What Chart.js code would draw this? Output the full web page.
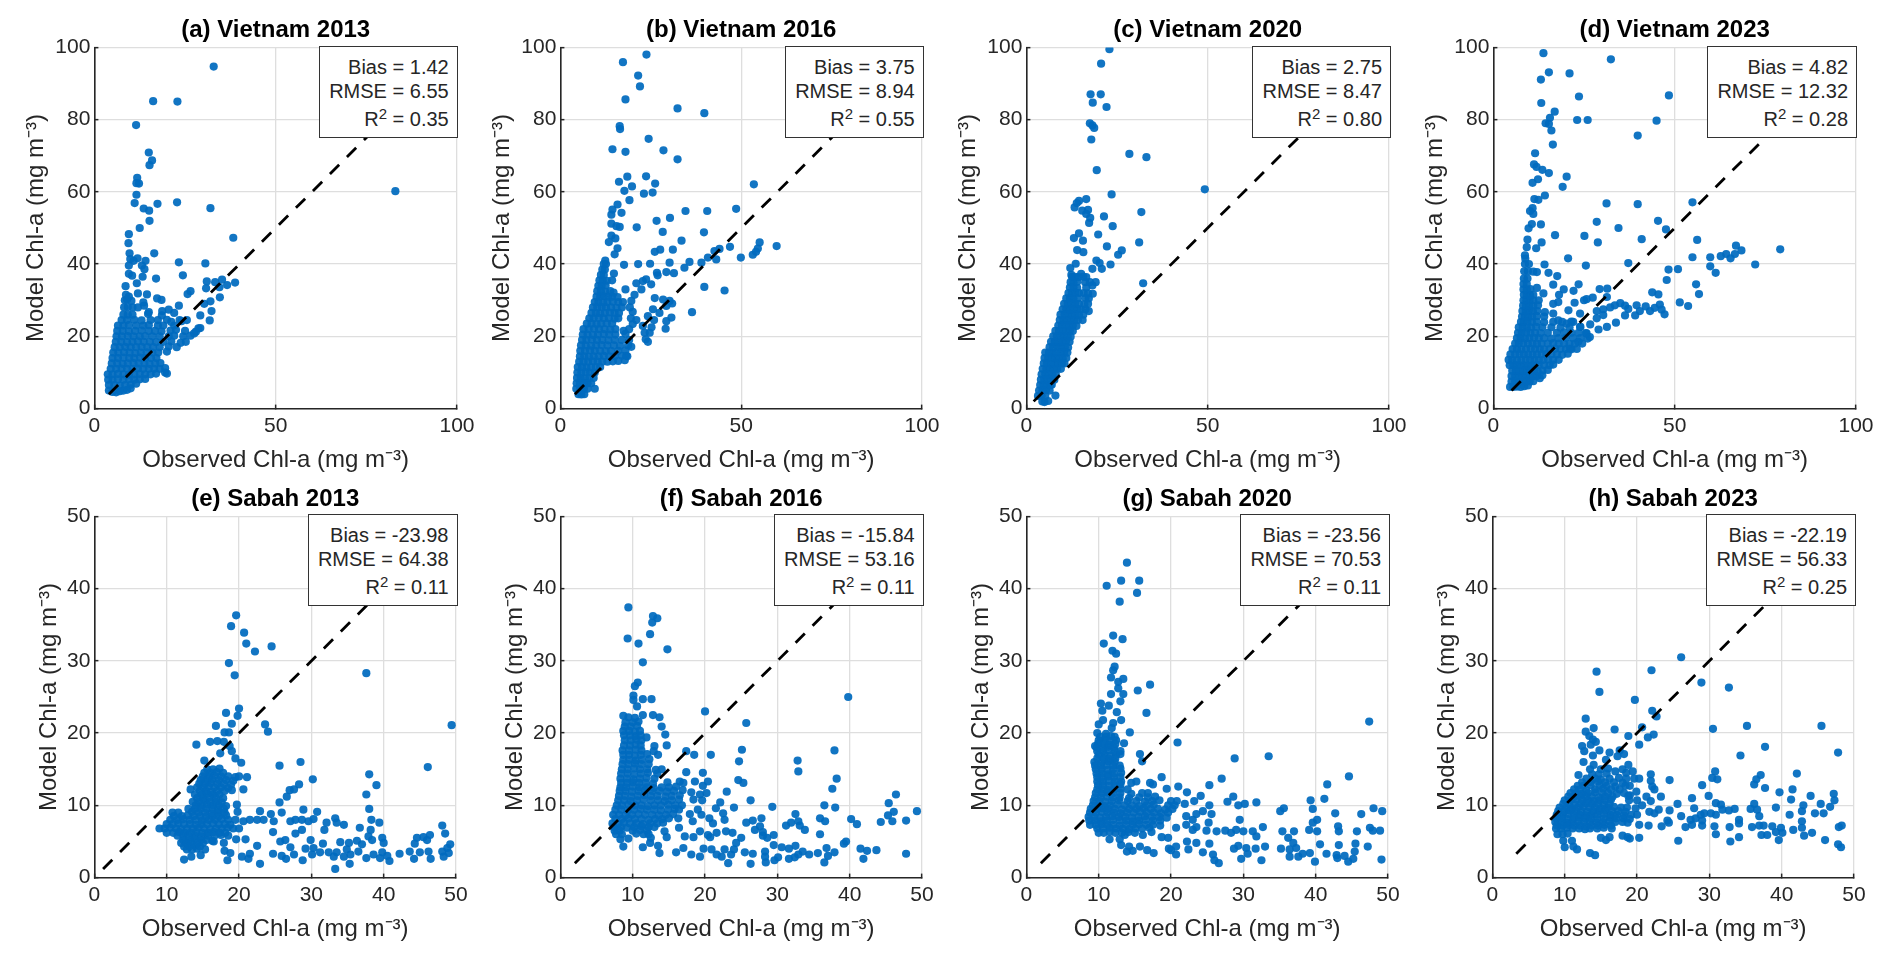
<!DOCTYPE html>
<html>
<head>
<meta charset="utf-8">
<title>Observed vs model Chl-a</title>
<script src="https://cdn.jsdelivr.net/npm/chart.js@4"></script>
<style>
  body { margin: 0; background: #fff; font-family: "Liberation Sans", Arial, sans-serif; }
  #page { position: relative; width: 1892px; height: 963px; overflow: hidden; }
  canvas { position: absolute; }
  .stat { position: absolute; box-sizing: border-box; height: 92px; background: #fff; border: 1.5px solid #333;
          color: #262626; font-size: 20px; text-align: right; padding: 9px 8px 0 0; line-height: 23.5px; }
  .stat sup { font-size: 15px; line-height: 0; vertical-align: 7px; }
  .stat .r2 { margin-top: 5px; }
</style>
</head>
<body>
<div id="page"></div>
<script>
const titles = ["(a) Vietnam 2013", "(b) Vietnam 2016", "(c) Vietnam 2020", "(d) Vietnam 2023",
                "(e) Sabah 2013", "(f) Sabah 2016", "(g) Sabah 2020", "(h) Sabah 2023"];
const bias = ["1.42", "3.75", "2.75", "4.82", "-23.98", "-15.84", "-23.56", "-22.19"];
const rmse = ["6.55", "8.94", "8.47", "12.32", "64.38", "53.16", "70.53", "56.33"];
const r2 = ["0.35", "0.55", "0.80", "0.28", "0.11", "0.11", "0.11", "0.25"];
const lineStart = [4, 4, 2, 5, 1.2, 2, 2, 3.3];
const ticksVietnamX = [0, 50, 100];
const ticksVietnamY = [0, 20, 40, 60, 80, 100];
const ticksSabah = [0, 10, 20, 30, 40, 50];

const vietnam2013 = [
[32.9,94.7],[16.2,85.1],[22.9,85],[11.5,78.5],[15,70.9],[15.9,68.7],[15.2,67.4],[11.8,63.9],[11.6,62.4],[12.3,62.3],[11.6,59.2],[11.1,56.9],[22.8,57.1],[17.4,56.7],[32,55.5],[13.6,55.4],[15.1,54.8],[15.2,52],[12.5,50],[83,60.2],
[9.5,48.3],[9.4,45.8],[38.3,47.3],[16.5,43],[9.7,43],[9.9,41.4],[11.9,41.6],[10.8,40.9],[14.1,40.9],[13.1,39.6],[9.5,39.6],[23.3,40.5],[30.6,40.2],[13.8,38.6],[9.5,37.3],[10.4,36.8],[13.3,36.5],[17,36],[24.4,36.9],[11.7,34.7],[8.6,33.9],[31,35.2],[35.2,35.7],[33.3,35],[38.8,34.9],[36.6,34.2],[34.5,33.6],[30.8,33.3],[26.5,32.5],[25.7,31.7],[12,31.9],[14.5,31.6],[34.6,30.8],[32,29.7],[30.3,29],[17.3,30.5],[18.5,30.1],[23.3,28.5],[32.3,27],[29.2,25.8],[31.8,24.4],[29.2,22.3],[28.7,22.2],[15,26.7],[18.7,27],[20.5,27.4],[22,26.5],[25.5,24.5],[24,24.2],[21.2,24],
[4,5],[5,4.6],[6,4.5],[7,4.8],[8,5],[9,5.2],[10,5.6],
[4,6.5],[5.5,6.5],[7,6.4],[8.5,6.5],[10,6.6],[11.5,6.9],
[3.8,8],[5,8],[6.5,8.1],[8,8],[9.5,8.1],[11,8],[12.5,8.1],[14,8.2],
[3.7,9.5],[5,9.5],[6.5,9.6],[8,9.5],[9.5,9.4],[11,9.5],[12.5,9.6],[14,9.5],[15.5,9.5],[17,9.7],[19.5,10],[20,9.7],
[4.5,11],[6,11],[7.5,11.1],[9,11],[10.5,11],[12,11.1],[13.5,11],[15,11],[16.5,11],[18,11],[19.5,11.2],
[4.8,12.5],[6.3,12.5],[7.8,12.4],[9.2,12.5],[10.8,12.6],[12.2,12.5],[13.8,12.5],[15.2,12.4],[16.8,12.5],[18.2,12.6],
[5,14],[6.5,14],[8,14.1],[9.6,14],[11,14],[12.6,14.1],[14,14],[15.6,14],[17.1,14],
[5.2,15.5],[6.6,15.5],[8.2,15.6],[9.7,15.5],[11.3,15.4],[12.8,15.5],[14.4,15.6],[16,15.5],[17.6,15.5],[20,15.8],
[5.6,17],[7,17],[8.5,17.1],[10,17],[11.5,17],[13,17.1],[14.6,17],[16.2,17],[18,17],[20.5,17.2],[22.7,17],
[5.9,18.5],[7.4,18.5],[9,18.4],[10.5,18.5],[12,18.6],[13.6,18.5],[15.3,18.5],[17,18.4],[19,18.5],[21.2,18.6],[23.8,18.2],[25.2,18.5],
[6.1,20],[7.6,20],[9.2,20.1],[10.8,20],[12.5,20],[14,20.1],[16,20],[18,20],[20.5,20],[22,20.2],[24.5,20],[26.5,20.2],[27.5,20.8],
[6.3,21.5],[7.8,21.5],[9.5,21.4],[11.2,21.5],[13,21.6],[15,21.5],[16.7,21.5],[18.5,21.4],[21,21.6],[22.5,21.8],[25,21.5],[28,21.3],
[6.5,23],[8,23],[9.5,23.1],[11.5,23],[13.5,23],[15,23.1],[17.5,23],[19,23],[22,23],
[7.5,24.5],[9,24.5],[11,24.6],[13,24.4],[15.5,24.5],[17.5,24.5],[20,24.6],[23.5,24.5],
[8,26],[9.2,26],[10.5,26],[14.8,26.2],[18.6,25.8],
[8.2,28],[9.2,28.1],[10.5,28],[12,28],[13.7,28.5],
[8.4,30],[9,30.2],[10.2,29.8],[13.5,29.4],[8.7,31.5],[9.5,31]
];

const vietnam2016 = [
[23.8,98],[17.3,95.9],[21.5,92.2],[22,89.2],[18,85.6],[32.4,83.1],[39.8,81.8],[16.4,78.2],[16.5,77.4],[24.4,74.7],[14.4,71.8],[18,71.1],[28.5,71.5],[32.4,69],[18.5,64.2],[23.7,64.3],[16.2,62.8],[26.2,62.3],[53.5,62.1],[19.8,61.5],[17.7,60.3],[23.1,59.5],[25.5,59.8],[19.1,57.7],[15.8,56.5],[14.4,55.1],[14.1,53.7],[16.9,54.2],[34.6,54.7],[40.6,54.7],[48.6,55.3],[30.3,52.8],[26.6,52],[14.1,51.2],[15.5,50.5],[16.4,50.3],[21.1,50.2],[28.3,48.9],[39.7,48.8],[14.1,47.9],[15.2,47.1],[13.4,46.1],[33.5,46.5],[55.1,46],[15.8,44.4],[15,42.7],[26.1,43.4],[27.6,44],[31.1,44],[42.6,43.6],[44,44.2],[46.9,44.8],[59.8,45],[54.6,44.3],[54.1,43.4],[53.2,42.6],[49.9,41.8],[40.8,41.8],[43.1,41.3],[39,40.4],[35.7,40.6],[34.3,39],[30.2,40.4],[24.8,40.1],[21.5,40],[17.6,39.8],[26.7,37.6],[29.3,37.8],[31.4,37.5],[26.9,36.9],[14.8,37.4],[23.7,35.8],[22.8,35.3],[25.1,34.4],[21,34.7],[39.8,33.7],[45.4,32.7],[18,33],[14.7,32.1],[22.4,33],[20.5,31.5],[19.6,29.8],[26.1,30.6],[28.4,30.2],[30.2,29.8],[30.9,29.1],[29.3,28.4],[36.4,26.7],[27.4,26.5],[25.6,27.5],[24.2,25.6],[30.7,25.2],[29.3,24.2],[25.9,24.5],[25.2,22.5],[22.8,22.9],[29.1,22.1],[24.7,21],[23.3,21],[23.6,19.2],[24.2,18.5],[19.6,17.1],[18.2,14.6],[21,24.5],[20,26.8],[19.2,28],
[5,4],[5.8,3.9],[6.6,4],[4.4,5.5],[5.5,5.5],[6.5,5.4],[7.5,5.5],[9.5,5.5],
[4.5,7],[5.4,7],[6.5,7.1],[7.5,7],[8.5,7],[4.6,8.5],[5.6,8.5],[6.8,8.4],[8,8.5],[9.2,8.5],
[4.7,10],[5.8,10],[7,10.1],[8.2,10],[9.5,10],[4.8,11.5],[6,11.5],[7.2,11.4],[8.5,11.5],[9.8,11.5],[11,11.5],
[5.2,13],[6.4,13],[7.7,13],[9,13.1],[10.3,13],[11.6,13],[13,13],[14.5,13.1],[16,13.2],[17.8,13.4],
[5.4,14.5],[6.6,14.5],[7.9,14.4],[9.2,14.5],[10.6,14.5],[12,14.6],[13.5,14.5],[15,14.5],[17,14.6],[18.5,14.5],
[5.5,16],[6.8,16],[8.2,16.1],[9.5,16],[11,16],[12.5,15.9],[14,16],[16,16],[18,16.1],
[5.7,17.5],[7,17.5],[8.5,17.4],[9.9,17.5],[11.4,17.6],[13,17.5],[14.8,17.5],[16.5,17.4],[18.7,17.5],
[6,19],[7.2,19],[8.7,19.1],[10.1,19],[11.6,19],[13.3,18.9],[15,19],[17,19],[19,19],
[6.2,20.5],[7.5,20.5],[9,20.4],[10.4,20.5],[12,20.6],[13.5,20.5],[15.2,20.5],[18,20.7],
[6.4,22],[7.8,22],[9.3,22.1],[10.7,22],[12.2,22],[13.8,21.9],[15.2,22],[17.5,21.5],[19,22],
[7.3,23.5],[8.6,23.5],[10,23.4],[11.3,23.5],[12.8,23.6],[14.3,23.5],[20,23.4],
[8,25],[9.2,25],[10.6,25.1],[12,25],[13.4,25],[15,24.9],[16,25],[19.5,25],
[8.6,26.5],[9.8,26.5],[11,26.4],[12.3,26.5],[13.7,26.6],[15,26.5],[16.2,26.5],
[9,28],[10.2,28],[11.4,28.1],[12.6,28],[14,28],[15.5,27.9],[17,28],
[9.5,29.5],[10.5,29.5],[11.8,29.4],[13,29.5],[14.5,29.6],[16,29.5],[17.3,29.5],
[10,31],[11,31],[12,31.1],[13.2,31],[14.3,31],[15.8,30.9],
[10.2,32.5],[11.2,32.5],[12.4,32.4],[13.8,32.5],[10.5,34],[11.4,34],[12.5,34.1],
[10.8,35.5],[11.7,35.5],[12.8,35.4],[14.3,35.5],[11.2,37],[12,37],[11.6,38.5],[12.3,38.5],[12,40],[12.6,40],[12.4,41]
];

const vietnam2020 = [
[22.9,99.5],[20.6,95.5],[17.7,87],[20.5,87],[18.3,84.7],[22.1,83.5],[17.5,79],[18.2,78.4],[18.7,77.7],[17.9,74.5],[28.4,70.5],[33.1,69.6],[19.4,66],[49.2,60.7],[23.5,59.3],[16.5,58],[14.5,57.5],[13.9,56.9],[13.3,55.7],[31.7,54.4],[15.4,54.8],[17,55],[16.5,53.9],[17.6,52.8],[17.3,51.4],[21.4,53.2],[23.8,50.5],[19.8,48.2],[14.5,48.5],[13.1,47.2],[15.6,46.5],[31.1,46],[22.2,44.9],[14,43.9],[15.7,43.3],[26.3,43.8],[25.3,42.6],[19.3,41],[20.2,40.3],[23.2,39.9],[13.6,40.1],[12.1,38.9],[18.2,38.7],[20.8,38.7],[12.4,37],[15.1,37.3],[16.5,36.4],[32.2,34.7],[19.1,35],[18.2,34.1],[18.3,31.8],
[4.4,2],[5,1.8],[6,2.1],[3.2,3.5],[4.2,3.5],[5.2,3.5],[8,3.6],
[3.5,5],[4.4,5],[5.4,5.1],[6.4,5],[3.8,6.5],[4.7,6.5],[5.6,6.4],[6.6,6.5],[7,6.6],
[4,8],[4.9,8],[5.8,8.1],[6.8,8],[7.7,8],[4.2,9.5],[5.2,9.5],[6.2,9.4],[7.2,9.5],[8.1,9.6],
[4.5,11],[5.5,11],[6.5,11.1],[7.5,11],[8.5,11],[9.5,11],[4.8,12.5],[5.7,12.5],[6.8,12.4],[7.8,12.5],[8.8,12.6],[9.8,12.5],[10.5,12.5],
[5,14],[6,14],[7,14.1],[8,14],[9,14],[10,13.9],[11,14],[5.2,15.5],[6.2,15.5],[7.3,15.4],[8.3,15.5],[9.4,15.6],[10.4,15.5],[11.3,15.5],
[6.4,17],[7.4,17],[8.5,17.1],[9.6,17],[10.6,17],[11.5,16.9],[6.8,18.5],[7.8,18.5],[8.9,18.4],[9.9,18.5],[10.9,18.6],[11.9,18.5],
[7.4,20],[8.4,20],[9.4,20.1],[10.4,20],[11.4,20],[12.2,19.9],[8,21.5],[9,21.5],[10,21.4],[11,21.5],[12,21.6],[12.8,21.5],
[8.8,23],[9.8,23],[10.8,23.1],[11.8,23],[12.8,23],[13.8,22.9],[9.2,24.5],[10.2,24.5],[11.2,24.4],[12.2,24.5],[13.2,24.6],[14.2,24.5],[15.5,24.5],
[9.4,26],[10.5,26],[11.5,26.1],[12.5,26],[13.5,26],[14.5,25.9],[15.7,26],[10,27.5],[11,27.5],[12,27.4],[13,27.5],[14,27.6],[15,27.5],[16.3,27.5],[17.2,27],
[10.4,29],[11.4,29],[12.4,29.1],[13.4,29],[14.5,29],[16,28.9],[17,29],[11,30.5],[12,30.5],[13,30.4],[14.2,30.5],[16.3,30.6],[17.2,30.5],
[11.6,32],[12.5,32],[13.5,32.1],[14.5,32],[15.8,32],[17,31.9],[12,33.5],[13,33.5],[14,33.4],[16.5,33.5],
[12.2,35],[13,35],[14,35.1],[16.2,35],[17.5,35],[12.6,36.5],[13.4,36.5],[14.4,36.4],[15.7,36.5]
];

const vietnam2023 = [
[13.8,98.4],[32.4,96.7],[15.3,93.1],[21,92.8],[13.1,91.1],[48.4,86.7],[23.6,86.4],[13.2,84.6],[16.9,82.2],[15.6,80.5],[23.1,79.9],[26,79.9],[45,79.7],[14.4,79],[15.3,78.8],[16,77],[39.8,75.6],[16.4,73.1],[11.5,70.7],[11.2,67.6],[11.9,66.9],[13.5,66.1],[15.3,65.2],[20.2,64.2],[12.3,63.5],[10.8,62.5],[19.1,61.4],[14.2,59],[11.3,58],[12.4,57.8],[31.2,56.8],[39.8,56.6],[54.9,57.1],[10.8,55.5],[10.1,54.7],[11,53.9],[28.5,51.7],[45.4,52],[13.1,51],[10.6,51.1],[9.7,49.9],[34.5,50],[47.6,49.6],[17,48],[25.1,47.8],[28.8,46],[40.9,46.9],[56.2,46.7],[66.9,45.1],[13.3,46],[9.4,46.8],[9.2,44.7],[11.8,44.4],[68.4,43.8],[79.1,44.1],[66.6,42.8],[64.2,42.8],[62.7,42.2],[65.4,41.6],[59.8,41.9],[54.9,41.9],[20.6,41.6],[8.7,42.4],[37.2,40.3],[14.1,39.9],[25.5,39.6],[59.8,39.4],[72.2,39.9],[50.9,38.6],[48.3,38.5],[61.3,37.6],[15.2,37.6],[12,37.8],[17.6,36.7],[47.8,35.6],[55.9,34.4],[16.5,34.3],[23.5,34.4],[12,33.4],[19.4,33],[29.3,33.1],[31.4,33.2],[22.1,32.6],[43.8,32.2],[45.5,31.6],[56.7,31.7],[13.8,31.9],[18.1,31.5],[25.7,30.3],[27.4,30.7],[25,30],[31.3,30.9],[51.4,29.4],[53.7,28.4],[22.4,29.3],
[28.5,27],[30.3,27.5],[32.2,28],[33.5,28.6],[35,29.2],[36.3,28.5],[37.2,27.6],[39.5,28.6],[40.4,27],[42,28.3],[43.2,27],[44.5,27.9],[45.9,28.8],[46.4,27.4],[47.2,26.1],[39.1,25.8],[36.3,25.8],[33.8,23.8],[31.3,22.6],[29,21.9],[26.7,23.3],[28.5,25],[30.3,25.9],[23.9,26.3],[20.7,27.2],[16.5,29],[17.9,29.5],[14.2,26.7],[16.5,26.3],[17.9,24.4],[20.2,23.5],[22,24],[23.9,22.6],[25.7,20.8],[26.6,19.8],[23.4,18.5],[21.1,16.6],
[4.6,6],[5.5,6],[6.5,6.1],[7.5,6],[8.5,6.2],[9.5,6.4],[5,7.5],[6,7.5],[7,7.4],[8,7.5],[9,7.6],[10,7.5],[11,7.6],[12.8,8.4],
[5,9],[6,9],[7,9.1],[8,9],[9,9],[10,8.9],[11,9],[12,9],[13.5,9.2],
[5.2,10.5],[6.2,10.5],[7.2,10.4],[8.2,10.5],[9.2,10.6],[10.2,10.5],[11.2,10.5],[12.2,10.4],[13.5,10.5],[15,10.7],
[4.5,12],[5.5,12],[6.5,12.1],[7.5,12],[8.5,12],[9.5,11.9],[10.5,12],[11.5,12],[12.5,12.1],[14,12],[15.5,12],[16.5,12.2],
[4.2,13.5],[5.2,13.5],[6.5,13.4],[7.7,13.5],[8.9,13.6],[10.1,13.5],[11.3,13.5],[12.5,13.4],[13.8,13.5],[15.1,13.6],[16.5,13.5],[18,13.5],
[4.7,15],[6,15],[7.2,15.1],[8.4,15],[9.6,15],[10.8,14.9],[12,15],[13.3,15],[14.6,15.1],[16,15],[17.5,15],[19,14.9],[20.5,15.2],
[5.3,16.5],[6.5,16.5],[7.7,16.4],[9,16.5],[10.3,16.6],[11.5,16.5],[12.8,16.5],[14,16.4],[15.5,16.5],[17,16.6],[18.5,16.5],[20,16.5],[21.5,16.4],[23,16.5],
[6,18],[7,18],[8.2,18.1],[9.5,18],[10.8,18],[12,17.9],[13.3,18],[15,18],[16.5,18.1],[18,18],[19.5,18],[21,17.9],[22.5,18],[24.5,18],
[6.5,19.5],[7.5,19.5],[8.7,19.4],[9.9,19.5],[11.2,19.6],[12.5,19.5],[14,19.5],[16,19.4],[18,19.5],[20,19.6],[22,19.5],[24,19.5],[26,19.4],
[6.8,21],[7.8,21],[9,21.1],[10.2,21],[11.5,21],[13,20.9],[15,21],[17.5,21],[19.5,21.1],[21.5,21],[23.5,21],[25.5,20.9],
[7,22.5],[8.1,22.5],[9.2,22.4],[10.4,22.5],[11.8,22.6],[13.5,22.5],[16,22.5],[18.5,22.4],[21,22.5],[24,22.6],
[7.6,24],[8.4,24],[9.4,24.1],[10.6,24],[12,24],[14,23.9],[16.5,24],[19,24],[21.5,24.1],
[7.9,25.5],[8.7,25.5],[9.6,25.4],[10.7,25.5],[12,25.6],[14,25.5],[8,27],[8.9,27],[9.8,27.1],[10.9,27],[12.1,27],
[8.2,28.5],[9,28.5],[9.9,28.4],[11,28.5],[12.3,28.6],[8.3,30],[9.1,30],[10,30.1],[11,30],[12.5,30],
[8.4,31.5],[9.2,31.5],[10.1,31.4],[11,31.5],[8.3,33],[9.2,33],[10.2,33.1],[8.3,34.5],[9.2,34.5],[8.4,36],[9.4,36],[8.5,38],[9.5,38],[11,37.9],[8.7,40],[9.8,40],[8.8,41.5]
];

const sabah2013 = [
[19.6,36.3],[18.9,34.8],[20.7,33.9],[21,32.4],[22.2,31.3],[24.5,32],[18.6,29.7],[19.4,28],[37.6,28.3],[20,23.4],[18.2,22.8],[19.8,22.4],[23.6,21.2],[16.8,21],[19,21.3],[49.4,21.1],[24,20.2],[18,20.1],[18.6,20.1],[14.1,18.4],[16,18.8],[17,18.9],[17.9,18.8],[18.7,18.2],[19,17.5],[17.4,17.2],[19.5,16.5],[20.3,15.9],[28.5,16],[25.6,15.5],[46.1,15.3],[15.2,16.2],[38,14.3],[21.1,13.9],[30.2,13.6],[39,12.8],[28.3,12.9],[13.3,12.2],[27.6,12.2],[27,12.1],[26.6,11.2],[37.6,11.5],[20.6,12.2],[25.6,10.4],[19.7,10.1],[38,9.5],[28.9,9.4],[19.8,9.1],[30.8,9.1],[22.9,9.2],[24.4,8.8],[25.9,9],[33.3,8.2],[38.3,8],[30.3,8.1],[32.1,7.6],[34.5,7.3],[33.5,7.6],[39.4,7.6],[48.1,7.2],
[20.6,7.8],[21.5,8],[22.5,8],[23.4,8],[24.8,7.8],[27.1,7.8],[27.8,8],[28.7,8],[29.6,7.8],[36.7,6.9],[31.8,6.6],[38.2,6.6],[48.5,6.1],[28.7,6.6],[27.8,6.1],[24.7,6.3],[46.4,5.9],[45.5,5.6],[44.6,5.5],[46,5.2],
[19.6,5.3],[20.9,5.3],[16.5,5],[17.9,4.8],[22.5,4.4],[25.7,5],[26.4,5.2],[29.9,5.2],[31.6,4.7],[27.1,4.2],[34,4.9],[35.2,4.8],[36.3,5.1],[37,4.6],[39.8,5.5],[40,4.8],[37.9,5.7],[38.4,5.2],[44.3,4.7],[49.2,4.6],[29.2,4],[30.3,4.1],[31.2,3.5],[32.4,3.5],[33.5,3.5],[34.9,3.9],[35.4,3.2],[34.5,2.9],[33.1,2.9],[36.5,3.6],[37.6,2.7],[38.6,3.2],[39.5,2.7],[40.5,3],[39.8,3.5],[42.2,3.3],[43.6,3.6],[44.2,2.6],[45,3.5],[46.5,2.6],[46.2,3.6],[48.1,3.6],[48.3,2.9],[49,3.4],[48.8,4.1],[40.8,2.3],[35.3,1.9],[33.3,1.2],[28.8,2.4],[30.1,3.2],[27.6,3.2],[26.5,2.6],[25.9,3],[24.7,3.3],[22.9,1.9],[21.3,2.6],[20.4,2.9],[21.5,3.3],[18.4,2.4],[18.8,3.4],[18,3.7],[14.7,3.1],[13.4,2.9],[12.4,2.5],[15.3,3.9],
[9,6.8],[9.7,6.8],[10.5,6.9],[11.3,6.8],[12,6.7],[12.8,6.8],[13.6,6.8],[14.4,6.9],[15.2,6.8],[16,6.7],[16.8,6.8],[17.6,6.8],[18.4,6.9],[19.2,6.8],[20,6.8],
[10.5,8],[11.5,8],[12.3,8.1],[13.2,8],[14,8],[14.9,7.9],[15.8,8],[16.7,8],[17.6,8.1],[18.5,8],[19.5,8],
[10.8,9],[11.6,9],[13.5,9.1],[14.4,9],[15.3,9],[16.2,8.9],[17.1,9],[18,9],
[14,10],[14.8,10],[15.6,10.1],[16.4,10],[17.2,10],[18.2,9.9],[14.2,11],[15,11],[15.9,11.1],[16.8,11],[17.8,11],
[14.6,12],[15.4,12],[16.2,11.9],[17,12],[18,12],[19,12.1],[14.5,13],[15.3,13],[16.1,13.1],[17,13],[17.9,13],[18.9,12.9],
[15,14],[15.8,14],[16.6,14.1],[17.5,14],[18.5,14],[19.5,13.9],[20,14],[15.6,15],[16.4,15],[17.3,15.1],
[11.5,5.8],[12.3,5.8],[13,5.9],[13.9,5.8],[14.8,5.7],[15.7,5.8],[16.6,5.8],[17.5,5.9],[18.5,5.8],
[12,4.8],[12.7,4.8],[13.4,4.9],[14.2,4.8],[15,4.8],[12.8,3.9],[13.5,3.9],[14.2,4],
[10,7.4],[10.8,7.4],[11.6,7.5],[12.4,7.4],[13.2,7.4],[14,7.3],[14.8,7.4],[15.6,7.4],[16.4,7.5],[17.2,7.4],[18,7.4],[18.8,7.3],
[10,6.2],[10.9,6.2],[11.7,6.3],[12.5,6.2],[13.3,6.2],[14.1,6.3],[14.9,6.2],[15.7,6.2],[16.5,6.3],[17.3,6.2],[18.1,6.2],
[11,8.5],[12.1,8.5],[12.9,8.6],[13.7,8.5],[14.6,8.5],[15.4,8.4],[16.3,8.5],[17.2,8.5],[18.2,8.6],
[13,9.5],[13.9,9.5],[14.7,9.6],[15.5,9.5],[16.3,9.5],[17.1,9.4],[17.9,9.5],
[13.6,10.5],[14.4,10.5],[15.2,10.6],[16,10.5],[16.8,10.5],[17.6,10.4],
[13.9,11.5],[14.8,11.5],[15.6,11.6],[16.4,11.5],[17.3,11.5],
[14.2,12.5],[15,12.5],[15.8,12.6],[16.6,12.5],[17.5,12.5],[18.5,12.4],
[14.7,13.5],[15.5,13.5],[16.3,13.6],[17.2,13.5],[18.2,13.5],[19.2,13.4],
[15.2,14.5],[16,14.5],[16.9,14.6],[17.8,14.5],
[12.3,5.2],[13.1,5.2],[13.9,5.3],[14.7,5.2],[15.5,5.2],[16.3,5.1],
[12.4,4.3],[13.1,4.3],[13.9,4.4],[14.6,4.3]
];

const sabah2016 = [
[9.4,37.4],[12.8,36.2],[13.4,35.9],[12.7,35.3],[12.4,33.7],[9.3,33.1],[10.8,32.4],[14.8,31.6],[11.4,29.8],[10.7,27],[10.3,26.5],[10.1,25.2],[10.1,24.6],[11.4,24.7],[12.6,24.7],[10.6,23.7],[20,23],[39.8,25],[25.7,21.4],[8.7,22.4],[9.4,22.2],[10.3,22.1],[11.4,22.5],[12.8,22.5],[13.7,22.2],[14,20.9],[14.5,19.8],[11.9,19.4],[14.7,18.3],[13,18.2],[17.4,17.5],[25.1,17.7],[37.9,17.6],[18.5,17],[20.8,17],[24.7,16.1],[32.8,16.2],[32.9,14.7],[17.4,14.6],[19.7,14.5],[38.2,13.7],[37.6,12.3],[24.6,13.5],[25.3,13.1],[18.6,13.3],[20.4,13.3],[16.5,13.3],[17,13.1],[19.7,12.7],[23,11.9],[18.1,11.8],[20.2,11.7],[19.3,11.5],[18.4,10.8],[19.6,10.7],[26.3,10.7],[22.1,10.4],[36.5,10],[45.4,10.3],[46.4,11.5],[21.5,9.6],[24,9.7],[29.3,9.8],[38,9.7],[49.3,9.2],[46.1,9.1],[45.3,8.6],[32.5,8.8],[22.5,8.9],[19,9.4],[19.5,8.7],[17.9,8.8],[20.6,8.2],[27.8,8.2],[40.2,8.1],[35.9,8.2],[36.6,7.8],[41,7.4],[44.3,7.7],[45.9,7.8],[47.8,7.9],[25.7,7.6],[26.6,7.9],[22.7,8],[21.1,7.5],[18.3,7.8],[16.3,8.2],[31.2,7.2],[31.9,7.6],[32.9,7.8],[33.1,7.2],[33.8,6.6],[26.9,6.6],[27.6,7.1],[28,6.3],[16.4,6.9],[14.4,6.4],[14.7,5.6],[35.9,6],[19.3,6.4],[18.4,5.6],[17.2,5.7],[21.6,6.2],[20.4,5.9],[20.7,5.6],[22.9,6.4],[23.8,6.2],[25,5.5],[28,5.8],[28.6,5.5],[29.5,5.9],[29.5,4.5],[24.3,4.8],[39.5,5],[39.2,4.7],[19.8,4],[13.5,4.4],[11.4,4.2],[8.7,4.3],[8.3,5.3],[9.4,5.4],[12.4,4.8],[16,3.5],[17,4.1],[18.1,3.2],[19.3,2.9],[20.9,3.9],[21.6,3.2],[22.7,3.9],[23.6,3.2],[23.2,2],[22.3,2.9],[24,3.9],[25.5,3.5],[26.6,3.3],[26.3,1.9],[28.3,3.6],[28.3,2.9],[28.4,2.1],[29.6,2.4],[30.1,2.8],[30.6,4.2],[31.6,4],[32.5,4.4],[31.6,2.6],[32.4,2.8],[32.9,3.2],[33.5,3.6],[34.4,3.2],[35.6,3.4],[36.5,2.1],[36.8,4.1],[37,3],[37.9,3.5],[41.5,4],[41.9,2.6],[42.4,3.7],[43.7,3.8],[47.8,3.3],[13.7,3.4],
[7.2,7.5],[8,7.5],[8.8,7.6],[9.6,7.5],[10.5,7.5],[11.4,7.4],[12.4,7.5],[13.4,7.5],[14.2,7.6],
[7.3,8.7],[8.1,8.7],[9,8.6],[9.9,8.7],[10.8,8.8],[11.7,8.7],[12.7,8.7],[13.6,8.6],[14.6,8.7],[15.6,8.8],
[7.8,10],[8.5,10],[9.4,10.1],[10.3,10],[11.2,10],[12.1,9.9],[13,10],[13.9,10],[14.9,10.1],[15.9,10],[16.8,10],
[8.1,11.3],[8.9,11.3],[9.8,11.2],[10.7,11.3],[11.6,11.4],[12.5,11.3],[13.4,11.3],[14.5,11.2],[15.4,11.3],[16.5,11.4],
[8.3,12.5],[9.1,12.5],[10,12.6],[10.9,12.5],[11.9,12.5],[12.9,12.4],[14,12.5],[15,12.5],[16,12.6],
[8.3,13.7],[9.2,13.7],[10.1,13.6],[11,13.7],[11.9,13.8],[13,13.7],[14.8,13.2],
[8.5,15],[9.3,15],[10.2,15.1],[11,15],[12,15],[13.2,14.9],[14,15],
[8.7,16.3],[9.5,16.3],[10.4,16.2],[11.3,16.3],[12.3,16.4],[8.6,17.6],[9.5,17.6],[10.4,17.7],[11.2,17.6],[12.9,17.5],[13.5,17],
[8.9,19],[9.7,19],[10.5,19.1],[11.2,19],[8.7,20.3],[9.5,20.3],[10.3,20.2],[11,20.3],[9,21.5],[10,21.5],[10.8,21.6],
[7.5,6.5],[8.2,6.5],[10,6.5],[11,6.6],[12,6.5],[12.5,5.5],
[7.6,8.1],[8.5,8.1],[9.4,8.2],[10.3,8.1],[11.2,8.1],[12.2,8],[13.1,8.1],[14.1,8.1],[15,8.2],
[7.6,9.4],[8.4,9.4],[9.3,9.3],[10.2,9.4],[11.1,9.5],[12,9.4],[13,9.4],[13.9,9.3],[14.9,9.4],[15.8,9.5],[16.4,9.4],
[8,10.7],[8.8,10.7],[9.7,10.6],[10.6,10.7],[11.5,10.8],[12.5,10.7],[13.5,10.7],[14.4,10.6],[15.4,10.7],[16.4,10.8],
[8.2,12],[9,12],[9.9,11.9],[10.8,12],[11.7,12.1],[12.7,12],[13.7,12],[14.7,11.9],[15.7,12],[16.9,12.1],
[8.4,13.1],[9.2,13.1],[10,13.2],[10.9,13.1],[11.8,13.1],[12.8,13],
[8.4,14.4],[9.3,14.4],[10.2,14.3],[11.1,14.4],[12.1,14.5],[13.4,14.4],
[8.6,15.7],[9.4,15.7],[10.3,15.8],[11.2,15.7],[12.2,15.7],
[8.7,17],[9.5,17],[10.3,16.9],[11.1,17],[12,17.1],
[8.8,18.3],[9.6,18.3],[10.4,18.4],[11.1,18.3],
[8.8,19.7],[9.6,19.7],[10.4,19.6],[11.1,19.7],
[8.9,20.9],[9.7,20.9],[10.6,21],
[7.4,7],[8.4,7],[9.2,6.9],[10.2,7],[11.2,7.1],[12.2,7],[13,7],
[7.7,6],[8.5,6],[10.5,6.1],[11.5,6],[12.2,6]
];

const sabah2020 = [
[13.9,43.6],[11.1,40.4],[13.1,41.1],[15.6,41.1],[15.3,39.4],[12.9,38.2],[12,33.5],[10.7,32.4],[13.3,33],[11.9,31.4],[12.4,31],[12.2,29.2],[12,28.7],[11.7,27.7],[13.4,27.5],[12.7,27.1],[17.1,26.7],[15.4,25.9],[12.7,26.2],[11.7,25.4],[13.4,25.4],[13,24.4],[10.3,24.1],[11.4,23.8],[10.5,23.1],[16.6,22.8],[12.5,22.9],[13.1,21.8],[10.6,21.8],[10,21.2],[12,21.4],[47.4,21.6],[11.8,20.7],[14.3,20.1],[9.8,20],[11,19.9],[12.2,19.5],[20.9,18.7],[9.5,18.2],[13.5,18.6],[15.7,17.1],[33.5,16.8],[28.8,16.5],[16,16.1],[44.6,14],[18.7,13.9],[27,13.7],[41.6,12.9],[25.3,12.8],[21,12.6],[19.4,12.3],[17.1,13.1],[15.2,13.3],[17.5,12.9],[22.2,11.8],[28.6,11.2],[24.1,11.3],[41.2,10.9],[39.3,10.7],[23.2,10.6],[27.8,10.5],[29.3,10],[30.2,10.2],[31.8,10.4],[25.3,10],[21.9,10.2],[35.6,9.6],[35.1,9.2],[39.6,9.5],[46.3,8.8],[48,9.6],[49.2,9.2],[42.7,8.9],[24.4,9.2],[23.5,8.8],[25.6,8.8],[22.1,8.5],[23,8],[29.5,8],[40.2,8],[39.6,7.6],[25.2,7.6],[22.1,7.3],[43.1,7.1],[32.7,7],[20.7,6.9],[23.5,7],[23,6.6],[24.9,6.5],[26.3,6.4],[27.5,6.5],[28.3,6.2],[29,6.6],[30,6.4],[31.3,6.4],[31.8,5.7],[39.1,6.6],[40.2,6.4],[43.2,6.4],[45.7,6.4],[47.5,6.9],[47.9,6.5],[48.9,6.5],[35.4,6.4],[37,6.4],[36.2,5.5],[25.3,4.7],[22.2,5],[23.5,4.8],[19.6,5.5],[18.7,5.6],[29.3,4.4],[40.6,4.6],[45.5,4.7],[43.2,4.5],[47.2,4.3],[33,4.3],[28.7,4],[30.4,4.1],[31.7,4],[35.2,4],[36.9,4.8],[36.4,3.9],[37.3,4.1],[36.4,2.9],[37.6,2.9],[38.2,3.3],[39.2,3.4],[30.6,3.3],[29.7,2.6],[32.5,2.4],[39.9,2.2],[41.5,3.3],[42.9,3.1],[43,2.7],[44,3],[44.5,2.2],[45.2,2.6],[45.4,3.6],[49.1,2.5],[25.8,3.2],[26,2.4],[26.6,2],[24.4,3.5],[22.4,3.9],[20.7,3.2],[20,3.8],[20.7,4.3],[19.7,4],[17.6,3.4],[16.7,3.8],[15.7,4.3],[14.7,3.7],[13.9,3.6],[14.2,4.3],[13.1,4.5],[12.9,5.3],[11.5,5.3],[13.6,5.9],[16.1,5.9],
[10,6.2],[10.7,6.2],[11.5,6.3],[12.3,6.2],[13.2,6.2],[14.1,6.3],[15,6.2],[17.3,6.3],
[8.8,7.3],[9.6,7.3],[10.4,7.4],[11.2,7.3],[12,7.3],[12.9,7.2],[13.8,7.3],[14.7,7.3],[15.6,7.4],[16.6,7.3],[17.5,7.3],[18.5,7.2],
[8.6,8.4],[9.4,8.4],[10.2,8.3],[11,8.4],[11.9,8.5],[12.8,8.4],[13.7,8.4],[14.6,8.3],[15.5,8.4],[16.4,8.5],[17.4,8.4],[18.4,8.4],[19.4,8.3],
[8.9,9.5],[9.7,9.5],[10.5,9.6],[11.3,9.5],[12.2,9.5],[13.2,9.4],[14.2,9.5],[15.2,9.5],[16.2,9.6],[17.2,9.5],[18.2,9.5],[19.2,9.4],[20.2,9.5],
[9.3,10.6],[10.1,10.6],[10.9,10.5],[11.8,10.6],[12.8,10.7],[14,10.6],[15.2,10.6],[16.4,10.5],[17.4,10.6],[18.4,10.7],[20,10.6],[20.8,10.6],
[9.6,11.7],[10.4,11.7],[11.2,11.8],[12,11.7],[13,11.7],[14.5,11.6],[16,11.7],[16.8,11.7],
[9.9,12.8],[10.6,12.8],[11.4,12.7],[12.2,12.8],[13,12.9],[9.8,13.9],[10.5,13.9],[11.3,14],[12.1,13.9],[13,13.9],[14.5,13.1],
[9.6,15],[10.4,15],[11.2,14.9],[12,15],[13,15.1],[9.4,16],[10.4,16],[11.3,16.1],[12.2,16],
[10,17],[10.8,17],[11.6,16.9],[12.4,17],[13,17.1],[9.7,18],[10.5,18],[11.3,18.1],[12.1,18],
[10,19],[10.8,19],[11.6,18.9],[12.4,19],
[9.8,6.8],[10.6,6.8],[11.5,6.9],[12.4,6.8],[13.3,6.8],[14.2,6.7],[15.1,6.8],[16,6.8],[17,6.9],
[8.7,7.9],[9.5,7.9],[10.3,7.8],[11.1,7.9],[12,8],[12.9,7.9],[13.8,7.9],[14.7,7.8],[15.6,7.9],[16.5,8],[17.5,7.9],[18.5,7.9],
[8.8,9],[9.6,9],[10.4,9.1],[11.2,9],[12.1,9],[13,8.9],[13.9,9],[14.8,9],[15.7,9.1],[16.6,9],[17.6,9],[18.6,8.9],[19.6,9],
[9.2,10],[10,10],[10.8,9.9],[11.6,10],[12.6,10.1],[13.6,10],[14.6,10],[15.6,9.9],[16.6,10],[17.6,10.1],[19.6,10],[20.5,10],
[9.5,11.1],[10.3,11.1],[11.1,11.2],[11.9,11.1],[12.9,11.1],[14.2,11],[15.6,11.1],[16.8,11.1],[17.8,11.2],
[9.8,12.2],[10.5,12.2],[11.3,12.1],[12.1,12.2],[13,12.3],[14,12.2],
[9.8,13.3],[10.6,13.3],[11.4,13.4],[12.2,13.3],[13.1,13.3],
[9.7,14.4],[10.5,14.4],[11.3,14.3],[12.1,14.4],[13.1,14.5],
[9.5,15.5],[10.3,15.5],[11.1,15.6],[12,15.5],[12.9,15.5],
[9.8,16.5],[10.7,16.5],[11.5,16.4],[12.3,16.5],
[9.8,17.5],[10.6,17.5],[11.4,17.6],[12.2,17.5],[13,17.5],
[9.9,18.5],[10.7,18.5],[11.5,18.4],[12.3,18.5],
[10.2,19.5],[11,19.5],[11.7,19.6]
];

const sabah2023 = [
[26.1,30.5],[14.4,28.5],[22,28.7],[28.9,27],[32.7,26.3],[14.8,25.7],[19.7,24.6],[22.1,23.1],[22.7,22.3],[12.9,22],[35.2,21],[45.5,21],[30.5,20.6],[14,20.7],[16.9,20.5],[20.7,20.8],[12.9,20.2],[18.8,19.6],[21.5,19.4],[22.3,19.8],[20.3,18.4],[37.7,18.1],[47.8,17.3],[34.3,16.9],[13.4,19.6],[13.9,19.1],[12.4,18.2],[13.6,18.4],[14.3,18.8],[12.7,17.5],[14.8,17.6],[13.9,16.9],[16.2,17.3],[17.6,17.6],[18.2,17.1],[17.3,16.8],[12.6,16],[14,15.6],[15.7,16.3],[18.8,15.6],[42.1,14.4],[11.9,14.2],[21.9,14.3],[30.8,14.7],[30.4,13.8],[31.1,13.6],[37.1,14.2],[36.5,13.6],[36.2,12.9],[24.5,13.5],[21.9,13.4],[22.1,12.6],[29,12.8],[19.4,14.7],[18.5,14.5],[17,14.7],[20.3,13.7],[37.7,12.4],[41.5,12.2],[22.4,12.2],[44,11.3],[47.2,11.6],[39.7,11.8],[29.9,11.3],[23.3,11.2],[27.6,11],[21.3,11.2],[19.9,11.9],[19,11.4],[41.3,10.8],[47.3,10.7],[46.7,9.8],[45.4,10.2],[43,10],[36.2,10.2],[25.6,10.2],[30.9,10.3],[31.6,10.1],[20.7,10],[21.9,10.6],[39.2,9.7],[33.5,9.5],[32.7,9.3],[35.7,9.5],[36.6,9.4],[42.8,9.2],[44.6,8.9],[45.8,8.9],[24.5,9.3],[23,9.4],[22.4,8.9],[21.7,9.1],[27.9,9.6],[29.3,8.9],[30.2,8.9],[30.9,8.7],[31.8,9.4],[36.9,8.5],[41.1,8.7],[26.1,8.5],[27.4,8],[28.1,8.2],[28.8,8.7],[29,7.9],[24.2,7.9],[34.1,8],[34.1,7.5],[42.8,7.8],[23.4,7.1],[24.4,7.6],[21.6,7.2],[20.3,7.3],[26.7,7],[27.6,7.3],[29,7.2],[30.7,7.1],[32.8,7],[35.9,7],[36.9,7.2],[37.5,7.2],[38.7,7.1],[39.9,6.9],[41.6,6.6],[42.8,6.9],[47.9,7],[48.3,7.2],[39.2,6.3],[40.1,6.2],[37.2,5.9],[38,5.9],[43.1,5.8],[44.2,6.2],[30.9,6],[34.1,5.6],[32.9,5],[39.6,5.2],[25.7,5.1],[46,5.2],[47.8,4.6],[48.2,4.2],[20.3,5.5],[18.7,5.6],[18,5.8],[19,5.4],[15,5.5],[16.2,5.6],[15.7,5.2],[10,4.2],[9.8,5.1],[11,5.1],[11.2,4.3],[11.7,3.9],[13.5,3.4],[14.2,3.1],
[9,6],[9.7,6],[10.4,6.1],
[8.8,6.8],[9.5,6.8],[10.3,6.9],[11.1,6.8],[12,6.8],[12.8,6.7],[13.5,6.8],[14.5,6.8],[15.4,6.9],[16.5,6.8],
[8.7,7.7],[9.5,7.7],[10.3,7.6],[11.1,7.7],[11.9,7.8],[12.7,7.7],[13.5,7.7],[14.4,7.6],[15.3,7.7],[16.2,7.8],[17,7.7],[18,7.7],[18.7,7.6],
[8.9,8.7],[9.7,8.7],[10.5,8.8],[11.3,8.7],[12.1,8.7],[12.9,8.6],[13.7,8.7],[14.5,8.7],[15.4,8.8],[16.3,8.7],[17.2,8.7],[18.2,8.6],[19.2,8.7],[20,8.7],
[9.3,9.7],[10.2,9.7],[11,9.6],[11.8,9.7],[12.6,9.8],[13.4,9.7],[14.2,9.7],[15,9.6],[15.9,9.7],[16.8,9.8],[17.8,9.7],[18.6,9.7],[19.8,9.6],
[10,10.7],[10.8,10.7],[11.6,10.8],[12.4,10.7],[13.2,10.7],[14,10.6],[14.8,10.7],[15.6,10.7],[16.4,10.8],[18.9,10.7],[20,10.7],
[10.8,11.7],[11.6,11.7],[12.4,11.6],[13.2,11.7],[14.2,11.8],[15.2,11.7],[16,11.7],[17.2,11.6],[18.2,11.7],
[11.8,12.7],[12.6,12.7],[13.6,12.8],[14.8,12.7],[15.8,12.7],[17,12.6],[18.4,12.7],[19,12.7],
[13,13.7],[14.2,13.7],[15,13.6],[16.2,13.7],[17.5,13.8],[18.5,13.7],[19.6,13.7],[13.5,15],[15,15],[16,15.1],[18,15],
[8.9,7.2],[9.7,7.2],[10.5,7.3],[11.3,7.2],[12.1,7.2],[12.9,7.1],[13.7,7.2],[14.6,7.2],[15.5,7.3],[16.4,7.2],
[8.8,8.2],[9.6,8.2],[10.4,8.1],[11.2,8.2],[12,8.3],[12.8,8.2],[13.6,8.2],[14.5,8.1],[15.4,8.2],[16.3,8.3],[17.1,8.2],[18.1,8.2],[19,8.1],
[9.1,9.2],[9.9,9.2],[10.7,9.3],[11.5,9.2],[12.3,9.2],[13.1,9.1],[13.9,9.2],[14.7,9.2],[15.6,9.3],[16.5,9.2],[17.4,9.2],[18.4,9.1],
[9.8,10.2],[10.6,10.2],[11.4,10.1],[12.2,10.2],[13,10.3],[13.8,10.2],[14.6,10.2],[15.4,10.1],[16.2,10.2],
[10.5,11.2],[11.3,11.2],[12.1,11.3],[12.9,11.2],[13.7,11.2],[14.7,11.1],[15.6,11.2],[16.6,11.2],[18.8,11.3],
[11.3,12.2],[12.1,12.2],[13,12.1],[14.2,12.2],[15.3,12.3],[16.4,12.2],[17.6,12.2],
[12.4,13.2],[13.6,13.2],[14.6,13.3],[15.6,13.2],[16.8,13.2],[18,13.1],
[13.8,14.3],[14.7,14.3],[15.8,14.4]
];

const series = [vietnam2013, vietnam2016, vietnam2020, vietnam2023, sabah2013, sabah2016, sabah2020, sabah2023];

// plot rectangles
const plotLeft = [94, 560.7, 1026.7, 1493, 94, 560.7, 1026.7, 1492.7];
const plotRight = [456.7, 922.7, 1390, 1856, 456.5, 922.7, 1389, 1855];
const rowTop = [47.7, 516];
const rowPlotH = 362;
const statWidth = [139, 139, 139, 150, 150, 150, 150, 150];
const yTitleGap = [72.4, 59.4];   // bottom row y titles sit close in and run into the ticks
const titleGap = 31.4, xAxisGap = 66.4, rightGap = 24;

const inkColor = "#262626";
const page = document.getElementById("page");

series.forEach((points, i) => {
  const row = i < 4 ? 0 : 1;
  const axisMax = row === 0 ? 100 : 50;
  const yGap = yTitleGap[row];
  const plotW = plotRight[i] - plotLeft[i];

  const canvas = document.createElement("canvas");
  canvas.width = yGap + plotW + rightGap;
  canvas.height = titleGap + rowPlotH + xAxisGap;
  canvas.style.left = (plotLeft[i] - yGap) + "px";
  canvas.style.top = (rowTop[row] - titleGap) + "px";
  page.appendChild(canvas);

  const xTicks = row === 0 ? ticksVietnamX : ticksSabah;
  const yTicks = row === 0 ? ticksVietnamY : ticksSabah;

  new Chart(canvas, {
    type: "scatter",
    data: {
      datasets: [
        {
          data: [{ x: lineStart[i], y: lineStart[i] }, { x: axisMax, y: axisMax }],
          showLine: true,
          borderColor: "#000",
          borderWidth: 2.8,
          borderDash: [13, 11],
          pointRadius: 0,
        },
        {
          data: points.map(p => ({ x: p[0], y: p[1] })),
          backgroundColor: "rgba(0, 106, 190, 0.93)",
          borderWidth: 0,
          pointRadius: 4.1,
        },
      ],
    },
    options: {
      responsive: false,
      animation: false,
      devicePixelRatio: 1,
      layout: { padding: { right: rightGap } },
      plugins: {
        legend: { display: false },
        tooltip: { enabled: false },
        title: {
          display: true,
          text: titles[i],
          fullSize: false,
          color: "#000",
          font: { family: "Liberation Sans", size: 24, weight: "bold" },
          padding: { top: 0, bottom: 2.6 },
        },
      },
      scales: {
        x: {
          min: 0,
          max: axisMax,
          afterBuildTicks: s => { s.ticks = xTicks.map(v => ({ value: v })); },
          afterFit: s => { s.height = xAxisGap; s.paddingLeft = 0; s.paddingRight = 0; },
          border: { color: inkColor, width: 1.6 },
          grid: { color: "#dedede", lineWidth: 1.3, tickLength: -4, tickColor: inkColor, tickWidth: 1.5 },
          ticks: { color: inkColor, padding: 9, maxRotation: 0, autoSkip: false, font: { family: "Liberation Sans", size: 21 } },
          title: {
            display: true,
            text: "Observed Chl-a (mg m⁻³)",
            color: inkColor,
            padding: 0,
            font: { family: "Liberation Sans", size: 24 },
          },
        },
        y: {
          min: 0,
          max: axisMax,
          afterBuildTicks: s => { s.ticks = yTicks.map(v => ({ value: v })); },
          afterFit: s => { s.width = yGap; s.paddingTop = 0; s.paddingBottom = 0; },
          border: { color: inkColor, width: 1.6 },
          grid: { color: "#dedede", lineWidth: 1.3, tickLength: -4, tickColor: inkColor, tickWidth: 1.5 },
          ticks: { color: inkColor, padding: 8, autoSkip: false, font: { family: "Liberation Sans", size: 21 } },
          title: {
            display: true,
            text: "Model Chl-a (mg m⁻³)",
            color: inkColor,
            padding: 0,
            font: { family: "Liberation Sans", size: 24 },
          },
        },
      },
    },
  });

  const stat = document.createElement("div");
  stat.className = "stat";
  stat.style.width = statWidth[i] + "px";
  stat.style.left = (plotRight[i] + 1 - statWidth[i]) + "px";
  stat.style.top = (rowTop[row] - 1.7) + "px";
  stat.innerHTML = "Bias = " + bias[i] + "<br>RMSE = " + rmse[i] + '<div class="r2">R<sup>2</sup> = ' + r2[i] + "</div>";
  page.appendChild(stat);
});
</script>
</body>
</html>
